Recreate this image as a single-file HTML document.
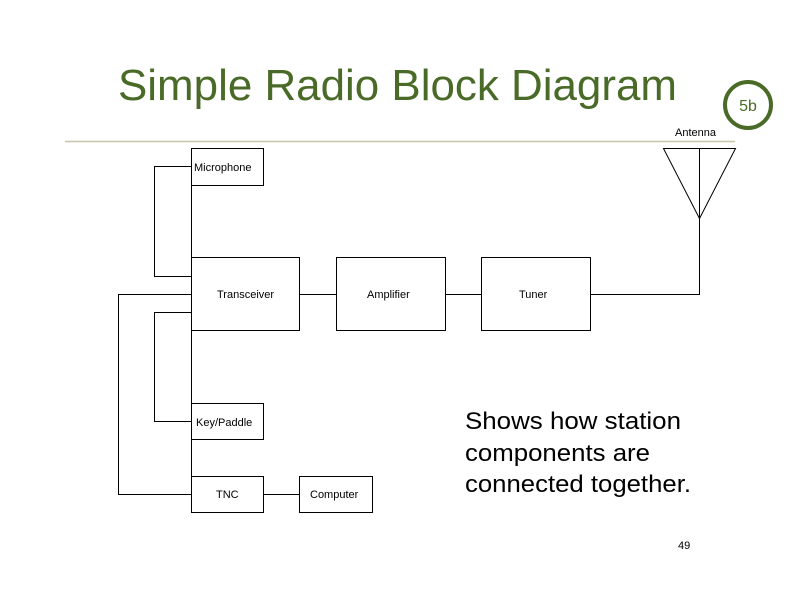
<!DOCTYPE html>
<html><head><style>
body{margin:0;width:800px;height:600px;background:#fff;overflow:hidden;font-family:"Liberation Sans",sans-serif}
</style></head><body>
<svg width="800" height="600" xmlns="http://www.w3.org/2000/svg" font-family="Liberation Sans, sans-serif">
<text x="118" y="100" font-size="44" fill="#4a6a28" textLength="559" lengthAdjust="spacingAndGlyphs">Simple Radio Block Diagram</text>
<circle cx="748" cy="105" r="23" fill="none" stroke="#4a6a28" stroke-width="4"/>
<text x="748" y="111" font-size="16" fill="#4a6a28" text-anchor="middle">5b</text>
<line x1="65" y1="141.5" x2="735" y2="141.5" stroke="#c8c4a8" stroke-width="1.5"/>
<g fill="none" stroke="#000" stroke-width="1">
<rect x="191.5" y="148.5" width="72" height="37"/>
<rect x="191.5" y="257.5" width="108" height="73"/>
<rect x="336.5" y="257.5" width="109" height="73"/>
<rect x="481.5" y="257.5" width="109" height="73"/>
<rect x="191.5" y="403.5" width="72" height="36"/>
<rect x="191.5" y="476.5" width="72" height="36"/>
<rect x="299.5" y="476.5" width="73" height="36"/>
<line x1="191.5" y1="185" x2="191.5" y2="257"/>
<line x1="191.5" y1="330" x2="191.5" y2="476"/>
<polyline points="191,166.5 154.5,166.5 154.5,276.5 191,276.5"/>
<polyline points="191,294.5 118.5,294.5 118.5,494.5 191,494.5"/>
<polyline points="191,312.5 154.5,312.5 154.5,421.5 191,421.5"/>
<line x1="300" y1="294.5" x2="336" y2="294.5"/>
<line x1="446" y1="294.5" x2="481" y2="294.5"/>
<polyline points="591,294.5 699.5,294.5 699.5,148.5"/>
<polygon points="663.5,148.5 735.5,148.5 699.5,218.5"/>
<line x1="264" y1="494.5" x2="299" y2="494.5"/>
</g>
<g font-size="11" fill="#000">
<text x="194" y="171">Microphone</text>
<text x="217" y="298">Transceiver</text>
<text x="367" y="298">Amplifier</text>
<text x="519" y="298">Tuner</text>
<text x="196" y="426">Key/Paddle</text>
<text x="216" y="498">TNC</text>
<text x="310" y="498">Computer</text>
<text x="675" y="136">Antenna</text>
<text x="678" y="549">49</text>
</g>
<g font-size="24" fill="#000">
<text x="465" y="429" textLength="216" lengthAdjust="spacingAndGlyphs">Shows how station</text>
<text x="465" y="461" textLength="185" lengthAdjust="spacingAndGlyphs">components are</text>
<text x="465" y="492" textLength="226" lengthAdjust="spacingAndGlyphs">connected together.</text>
</g>
</svg>
</body></html>
